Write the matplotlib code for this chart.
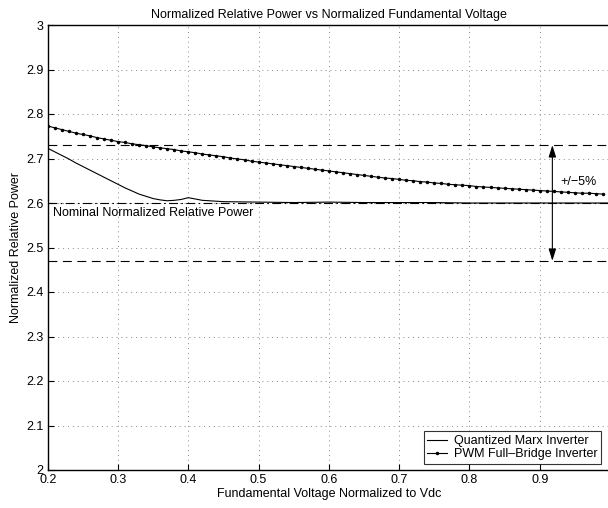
import numpy as np
import matplotlib
matplotlib.use('Agg')
from matplotlib import pyplot as plt

# x grid for the PWM curve (one sample every 0.01)
pwm_x = np.round(np.arange(0.20, 0.995, 0.01), 2)
pwm_y = [2.773, 2.769, 2.765, 2.761, 2.757, 2.754, 2.751, 2.747, 2.744, 2.741,
         2.738, 2.736, 2.733, 2.731, 2.729, 2.726, 2.724, 2.722, 2.720, 2.717,
         2.715, 2.713, 2.710, 2.708, 2.706, 2.704, 2.701, 2.699, 2.697, 2.694,
         2.692, 2.690, 2.688, 2.686, 2.684, 2.682, 2.680, 2.678, 2.676, 2.674,
         2.672, 2.670, 2.668, 2.666, 2.664, 2.662, 2.660, 2.658, 2.656, 2.655,
         2.653, 2.651, 2.650, 2.648, 2.647, 2.645, 2.644, 2.642, 2.641, 2.640,
         2.639, 2.637, 2.636, 2.635, 2.634, 2.633, 2.632, 2.631, 2.630, 2.629,
         2.628, 2.627, 2.626, 2.625, 2.624, 2.623, 2.622, 2.622, 2.621, 2.620]

marx_x = [0.20, 0.21, 0.22, 0.23, 0.24, 0.25, 0.26, 0.27, 0.28, 0.29, 0.30,
          0.31, 0.32, 0.33, 0.34, 0.35, 0.36, 0.37, 0.38, 0.39, 0.40, 0.41,
          0.42, 0.43, 0.45, 0.50, 0.55, 0.60, 0.65, 0.70, 0.75, 0.80, 0.90, 1.00]
marx_y = [2.723, 2.715, 2.707, 2.699, 2.690, 2.682, 2.674, 2.666, 2.658, 2.650,
          2.642, 2.634, 2.627, 2.620, 2.615, 2.610, 2.607, 2.605, 2.606, 2.608,
          2.612, 2.609, 2.606, 2.605, 2.603, 2.602, 2.601, 2.602, 2.601, 2.601,
          2.601, 2.600, 2.600, 2.600]

nominal = 2.6
upper = 2.73
lower = 2.47
arrow_x = 0.918

x_ticks = [0.2, 0.3, 0.4, 0.5, 0.6, 0.7, 0.8, 0.9]
x_labels = ['0.2', '0.3', '0.4', '0.5', '0.6', '0.7', '0.8', '0.9']
y_ticks = [2.0, 2.1, 2.2, 2.3, 2.4, 2.5, 2.6, 2.7, 2.8, 2.9, 3.0]
y_labels = ['2', '2.1', '2.2', '2.3', '2.4', '2.5', '2.6', '2.7', '2.8', '2.9', '3']

plt.rcParams['font.family'] = ['Liberation Sans', 'DejaVu Sans']
plt.rcParams['font.size'] = 9

fig = plt.figure(figsize=(6.08, 5.08), dpi=100)
ax = fig.add_axes([47.7 / 608, 38 / 508, (610 - 47.7) / 608, 445 / 508])

ax.plot(marx_x, marx_y, color='black', lw=0.8, label='Quantized Marx Inverter')
ax.plot(pwm_x, pwm_y, color='black', lw=0.8, marker='.', markersize=3,
        label='PWM Full\u2013Bridge Inverter')

ax.axhline(upper, color='black', lw=0.8, dashes=(8, 5))
ax.axhline(lower, color='black', lw=0.8, dashes=(8, 5))
ax.axhline(nominal, color='black', lw=0.8, dashes=(8, 3, 1.5, 3))

ax.annotate('', xy=(arrow_x, upper), xytext=(arrow_x, lower),
            arrowprops=dict(arrowstyle='<|-|>,head_length=0.8,head_width=0.25',
                            color='black', lw=0.8, shrinkA=0, shrinkB=0))
ax.text(arrow_x + 0.011, 2.648, '+/\u22125%', va='center', ha='left')
ax.text(0.2075, 2.578, 'Nominal Normalized Relative Power', va='center',
        ha='left')

ax.set_xlim(0.2, 1.0)
ax.set_ylim(2.0, 3.0)
ax.set_xticks(x_ticks)
ax.set_xticklabels(x_labels)
ax.set_yticks(y_ticks)
ax.set_yticklabels(y_labels)
ax.tick_params(direction='in', length=4, width=0.8, pad=3)
ax.grid(True, color='#888888', linestyle=(0, (1, 4)), lw=0.7)
for s in ax.spines.values():
    s.set_linewidth(1.0)

ax.set_title('Normalized Relative Power vs Normalized Fundamental Voltage',
             fontsize=9, pad=5)
ax.set_xlabel('Fundamental Voltage Normalized to Vdc', labelpad=1)
ax.set_ylabel('Normalized Relative Power', labelpad=3)

leg = ax.legend(loc='lower right', bbox_to_anchor=(0.984, 0.0135),
                frameon=True, fancybox=False, handlelength=1.6,
                borderpad=0.3, labelspacing=0.1, handletextpad=0.5,
                borderaxespad=0)
leg.get_frame().set_edgecolor('black')
leg.get_frame().set_linewidth(0.8)

fig.savefig('out.png', dpi=100)
